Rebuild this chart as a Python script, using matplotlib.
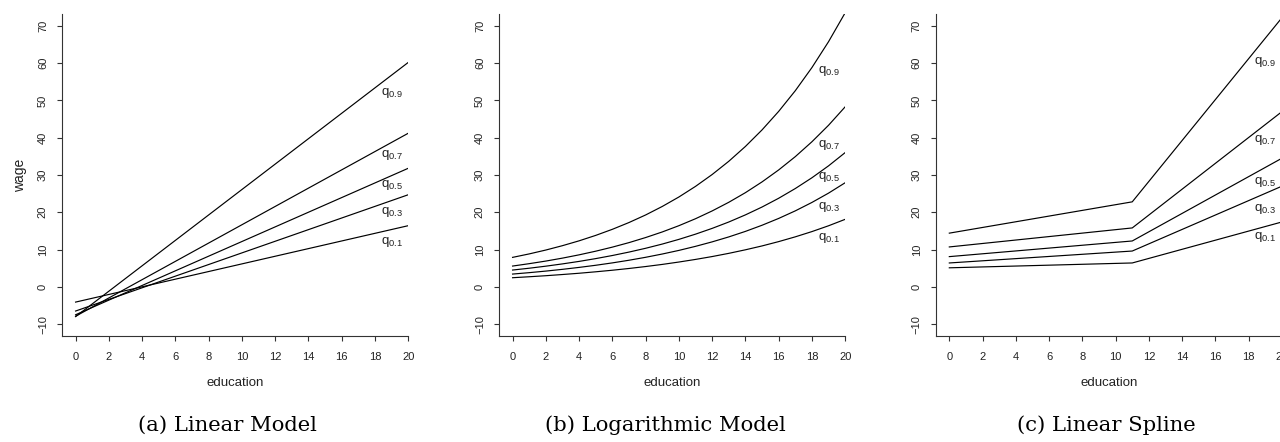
import matplotlib
matplotlib.use("Agg")
import matplotlib.pyplot as plt

# Quantile fits of wage on education
quantiles = ["0.1", "0.3", "0.5", "0.7", "0.9"]

# (a) linear model: wage at education 0 and 20
educ_lin = [0, 20]
lin_q01 = [-4.1, 16.4]
lin_q03 = [-6.5, 24.7]
lin_q05 = [-7.5, 31.8]
lin_q07 = [-7.9, 41.2]
lin_q09 = [-8.0, 60.2]
lin_label_y = [12.1, 20.2, 27.3, 35.4, 51.9]

# (b) logarithmic model: wage at each year of education
educ_log = [0, 1, 2, 3, 4, 5, 6, 7, 8, 9, 10, 11, 12, 13, 14, 15, 16, 17, 18, 19, 20]
log_q01 = [2.44, 2.70, 2.98, 3.30, 3.64, 4.03, 4.45, 4.92, 5.44, 6.01, 6.65,
           7.35, 8.12, 8.98, 9.93, 10.97, 12.13, 13.41, 14.82, 16.38, 18.11]
log_q03 = [3.42, 3.80, 4.22, 4.69, 5.21, 5.78, 6.42, 7.13, 7.92, 8.80, 9.77,
           10.86, 12.06, 13.39, 14.87, 16.52, 18.35, 20.38, 22.64, 25.14, 27.93]
log_q05 = [4.50, 4.99, 5.54, 6.15, 6.82, 7.57, 8.40, 9.32, 10.34, 11.47, 12.73,
           14.13, 15.68, 17.39, 19.30, 21.41, 23.76, 26.37, 29.26, 32.46, 36.02]
log_q07 = [5.57, 6.21, 6.91, 7.70, 8.58, 9.56, 10.65, 11.86, 13.22, 14.72, 16.40,
           18.27, 20.36, 22.68, 25.26, 28.15, 31.36, 34.93, 38.92, 43.35, 48.30]
log_q09 = [7.90, 8.83, 9.87, 11.04, 12.34, 13.80, 15.43, 17.25, 19.28, 21.56, 24.10,
           26.95, 30.13, 33.68, 37.66, 42.10, 47.07, 52.62, 58.83, 65.78, 73.54]
log_label_y = [13.2, 21.3, 29.4, 38.0, 58.0]

# (c) linear spline with a knot at 11 years
educ_spl = [0, 11, 20]
spl_q01 = [5.1, 6.4, 17.4]
spl_q03 = [6.4, 9.6, 27.0]
spl_q05 = [8.1, 12.3, 34.5]
spl_q07 = [10.7, 15.8, 47.0]
spl_q09 = [14.4, 22.8, 72.2]
spl_label_y = [13.3, 21.0, 28.2, 39.4, 60.4]

captions = ["(a) Linear Model", "(b) Logarithmic Model", "(c) Linear Spline"]
label_x = 19

plt.rcParams["font.family"] = ["Liberation Sans", "DejaVu Sans"]
plt.rcParams["mathtext.fontset"] = "custom"
plt.rcParams["mathtext.rm"] = "Liberation Sans"

fig = plt.figure(figsize=(12.8, 4.42), dpi=100)

panels = [
    (0.0484, educ_lin, [lin_q01, lin_q03, lin_q05, lin_q07, lin_q09], lin_label_y),
    (0.3898, educ_log, [log_q01, log_q03, log_q05, log_q07, log_q09], log_label_y),
    (0.7310, educ_spl, [spl_q01, spl_q03, spl_q05, spl_q07, spl_q09], spl_label_y),
]
caption_x = [0.178, 0.5195, 0.864]

for i, (left, xs, series, ly) in enumerate(panels):
    ax = fig.add_axes([left, 0.2398, 0.2705, 0.7285])
    for ys in series:
        ax.plot(xs, ys, color="black", lw=0.85)
    for q, y in zip(quantiles, ly):
        ax.text(label_x, y, r"$\mathregular{q_{%s}}$" % q, ha="center", va="center",
                fontsize=9.5, color="#222222")

    ax.set_xlim(-0.82, 20)
    ax.set_ylim(-13.2, 73.2)
    ax.set_xticks(range(0, 21, 2))
    ax.set_yticks(range(-10, 71, 10))
    ax.spines["top"].set_visible(False)
    ax.spines["right"].set_visible(False)
    for s in ["left", "bottom"]:
        ax.spines[s].set_color("#333333")
        ax.spines[s].set_linewidth(0.8)
    ax.tick_params(direction="out", length=3.6, width=0.8, color="#333333",
                   labelsize=8, labelcolor="#222222")
    ax.tick_params(axis="x", pad=8)
    ax.tick_params(axis="y", pad=6.5, labelrotation=90)
    for lab in ax.get_yticklabels():
        lab.set_verticalalignment("center")
    ax.set_xlabel("education", fontsize=9.5, labelpad=11, color="#222222")
    if i == 0:
        ax.set_ylabel("wage", fontsize=10, labelpad=8, color="#222222")

    fig.text(caption_x[i], 0.038, captions[i], ha="center", va="center",
             fontsize=15.2, family="DejaVu Serif")

fig.savefig("out.png", dpi=100)
